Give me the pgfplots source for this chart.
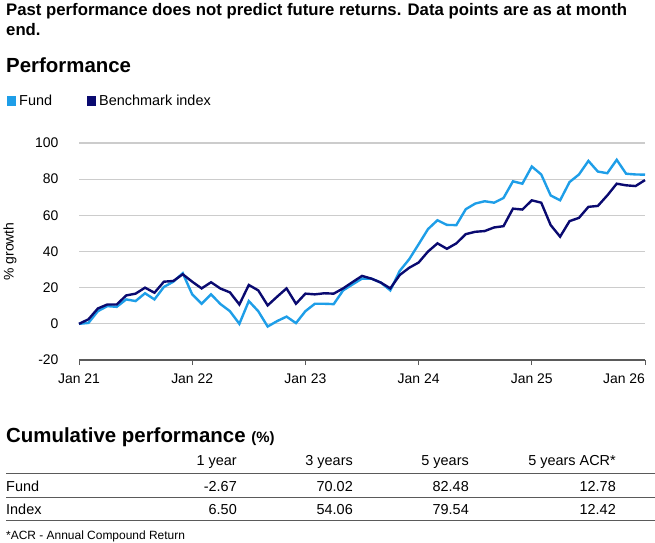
\documentclass[border=0pt]{standalone}
\usepackage{fontspec}
\setmainfont{Liberation Sans}
\usepackage{pgfplots}
\usepackage{pgfplotstable}
\pgfplotsset{compat=1.18}
\definecolor{fundc}{RGB}{30,158,232}
\definecolor{benchc}{RGB}{10,10,112}
\definecolor{gridc}{RGB}{204,204,204}
\definecolor{axc}{RGB}{90,90,90}
\newcommand{\fs}[1]{\fontsize{#1}{#1}\selectfont}

\pgfplotstableread{
m fund bench
0 0 0
1 0.5 2.5
2 7 8.5
3 9.8 10.7
4 9.4 10.7
5 13.5 15.7
6 12.6 16.7
7 16.9 20
8 13.5 17.2
9 20.4 23.3
10 23.3 23.7
11 28 27.4
12 16.3 23.3
13 11.1 19.6
14 16.3 23
15 10.9 19.5
16 7 17.4
17 0 10.7
18 12.6 21.5
19 7 18.5
20 -1.5 10.2
21 1.5 15
22 4 19.6
23 0.4 11.1
24 7 16.7
25 11.1 16.3
26 11.1 16.9
27 10.9 16.7
28 18.5 19.6
29 21.8 23.1
30 25 26.5
31 25 25
32 22.8 22.8
33 18.5 19.6
34 29.3 27
35 35.7 31
36 44 33.9
37 52.4 40
38 57.3 44.5
39 54.7 41.5
40 54.6 44.5
41 63.4 49.6
42 66.5 50.9
43 67.8 51.3
44 67 53.3
45 69.6 54
46 78.8 63.7
47 77.5 63.2
48 87 68.3
49 82.6 67
50 71 54.6
51 68.3 48.2
52 78.4 56.8
53 82.6 58.6
54 90.1 64.7
55 84.2 65.2
56 83.3 71
57 90.7 77.5
58 83 76.6
59 82.6 76.2
60 82.5 79.5
}\perfdata

\begin{document}
\begin{tikzpicture}[x=1bp,y=-1bp]
\path[use as bounding box] (0,0) rectangle (655,543);
\node[anchor=base west, inner sep=0] at (6,16) {\fs{16.8}\bfseries Past performance does not predict future returns. Data points are as at month};
\node[anchor=base west, inner sep=0] at (6,36) {\fs{16.8}\bfseries end.};
\node[anchor=base west, inner sep=0] at (6,73) {\fs{20.5}\bfseries Performance};
\fill[fundc] (7,96) rectangle (16,106);
\node[anchor=base west, inner sep=0] at (19,106) {\fs{14.5}Fund};
\fill[benchc] (87,96) rectangle (96,106);
\node[anchor=base west, inner sep=0] at (99,106) {\fs{14.5}Benchmark index};

\begin{axis}[
  at={(79bp,-360bp)}, anchor=south west,
  width=566bp, height=217bp, scale only axis,
  xmin=0, xmax=60, ymin=-20, ymax=100,
  axis x line*=bottom, axis y line*=left,
  y axis line style={draw=none},
  x axis line style={draw=axc, line width=1.2bp, -},
  ytick={-20,0,20,40,60,80,100},
  yticklabels={-20,0,20,40,60,80,100},
  xtick={0,12,24,36,48,60},
  xticklabels={Jan 21,Jan 22,Jan 23,Jan 24,Jan 25,\makebox[0pt][r]{Jan 26}},
  tick align=outside, major tick length=5bp,
  xtick style={draw=axc, line width=1bp},
  ytick style={draw=none},
  ymajorgrids, grid style={gridc, line width=1.3bp},
  tick label style={font=\fs{14}},
  xticklabel style={yshift=-5bp},
  yticklabel style={xshift=-12bp},
  ylabel={\% growth},
  ylabel style={font=\fs{14}, at={(axis description cs:-0.1219,0.5)}, anchor=center},
  clip=false,
]
\addplot[fundc, line width=2.4bp] table[x=m, y=fund] {\perfdata};
\addplot[benchc, line width=2.4bp] table[x=m, y=bench] {\perfdata};
\end{axis}

\node[anchor=base west, inner sep=0] at (6,442) {\fs{20.5}\bfseries Cumulative performance {\fs{15}(\%)}};
\begin{scope}[every node/.style={inner sep=0, font=\fs{14.5}}]
\node[anchor=base east] at (237,465) {1 year};
\node[anchor=base east] at (353,465) {3 years};
\node[anchor=base east] at (469,465) {5 years};
\node[anchor=base east] at (616,465) {5 years ACR*};
\node[anchor=base west] at (6,491.5) {Fund};
\node[anchor=base east] at (237,491.5) {-2.67};
\node[anchor=base east] at (353,491.5) {70.02};
\node[anchor=base east] at (469,491.5) {82.48};
\node[anchor=base east] at (616,491.5) {12.78};
\node[anchor=base west] at (6,514) {Index};
\node[anchor=base east] at (237,514) {6.50};
\node[anchor=base east] at (353,514) {54.06};
\node[anchor=base east] at (469,514) {79.54};
\node[anchor=base east] at (616,514) {12.42};
\end{scope}
\draw[axc, line width=1bp] (6,473.5) -- (655,473.5);
\draw[axc, line width=1bp] (6,497.5) -- (655,497.5);
\draw[axc, line width=1bp] (6,520.5) -- (655,520.5);
\node[anchor=base west, inner sep=0] at (6,539) {\fs{12}*ACR - Annual Compound Return};
\end{tikzpicture}
\end{document}
